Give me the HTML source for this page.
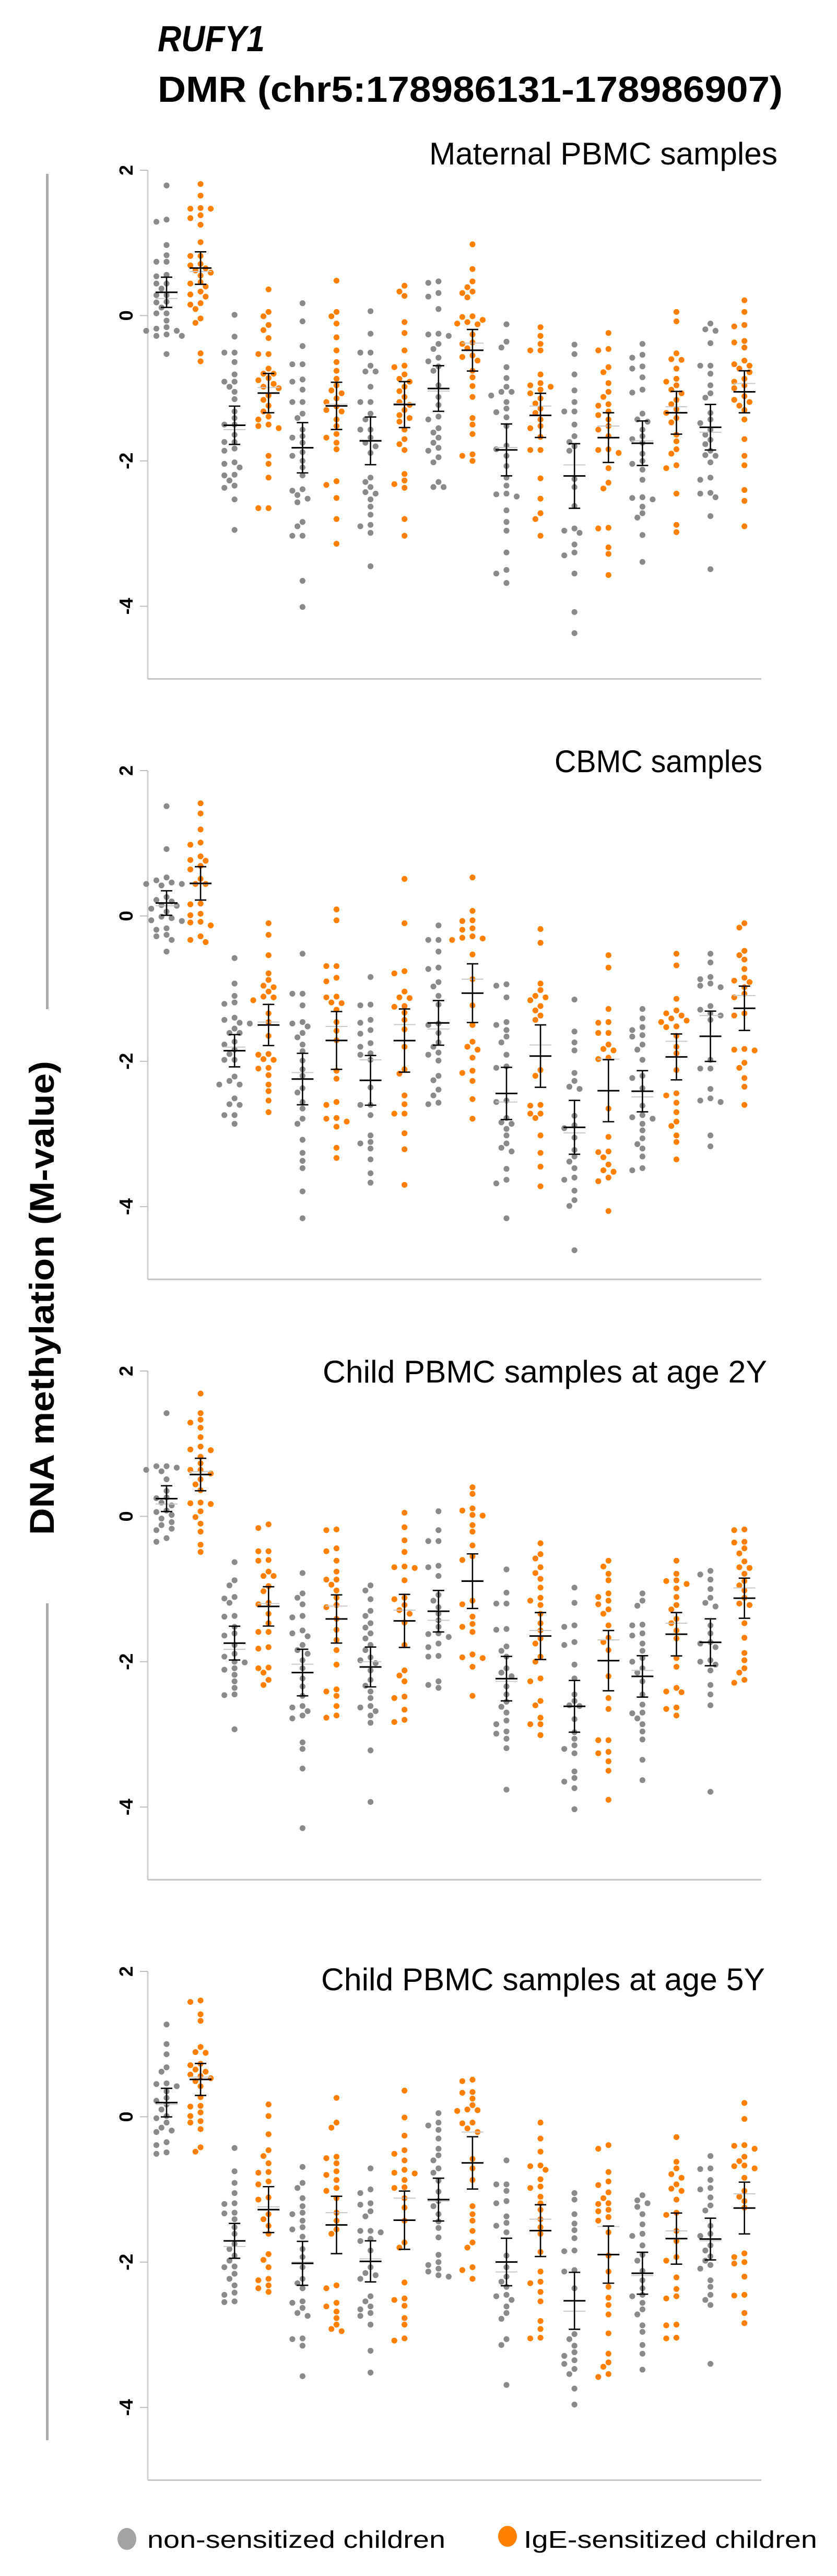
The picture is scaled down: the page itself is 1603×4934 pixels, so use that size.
<!DOCTYPE html>
<html><head><meta charset="utf-8"><title>RUFY1 DMR methylation</title>
<style>
html,body{margin:0;padding:0;background:#fff;}
svg{display:block;}
text{font-family:"Liberation Sans",sans-serif;}
</style></head>
<body>
<svg id="fig" xmlns="http://www.w3.org/2000/svg" width="1603" height="4934" viewBox="0 0 1603 4934">
<text x="302" y="98" font-size="70" font-weight="bold" font-style="italic" textLength="205" lengthAdjust="spacingAndGlyphs">RUFY1</text>
<text x="302" y="195" font-size="70" font-weight="bold" textLength="1197" lengthAdjust="spacingAndGlyphs">DMR (chr5:178986131-178986907)</text>
<rect x="88" y="333" width="5" height="1600" fill="#a9a9ae"/>
<rect x="88" y="3071" width="5" height="1603" fill="#a9a9ae"/>
<text transform="translate(103,2486) rotate(-90)" text-anchor="middle" font-size="66" font-weight="bold" textLength="908" lengthAdjust="spacingAndGlyphs">DNA methylation (M-value)</text>
<g id="panels"></g>
<ellipse cx="243" cy="4863" rx="18" ry="21" fill="#a3a3a6"/>
<text x="282" y="4880" font-size="46" textLength="571" lengthAdjust="spacingAndGlyphs">non-sensitized children</text>
<ellipse cx="972" cy="4858" rx="18" ry="20" fill="#ff8000"/>
<text x="1003" y="4880" font-size="46" textLength="562" lengthAdjust="spacingAndGlyphs">IgE-sensitized children</text>
</svg>
<script>
const panelTitles = ["Maternal PBMC samples","CBMC samples","Child PBMC samples at age 2Y","Child PBMC samples at age 5Y"];
const groupColors = ["non-sensitized","IgE-sensitized"];
const yTicks = [2,0,-2,-4];
const tickLabels = ["2","0","-2","-4"];

const maternalValues = [
[1.79,1.32,1.29,0.97,0.83,0.74,0.74,0.56,0.54,0.44,0.44,0.37,0.28,0.28,0.19,0.18,0.11,0.03,0.03,-0.07,-0.16,-0.18,-0.21,-0.21,-0.26,-0.28,-0.28,-0.53],
[1.81,1.65,1.48,1.47,1.47,1.38,1.34,1.25,1.01,0.82,0.82,0.71,0.69,0.65,0.62,0.59,0.55,0.46,0.44,0.40,0.33,0.29,0.26,0.17,0.15,0.09,-0.04,-0.10,-0.52,-0.63],
[0.01,-0.29,-0.51,-0.51,-0.64,-0.81,-0.91,-0.91,-0.98,-1.05,-1.15,-1.32,-1.41,-1.50,-1.50,-1.64,-1.74,-1.74,-1.83,-1.86,-2.02,-2.04,-2.09,-2.19,-2.20,-2.27,-2.34,-2.37,-2.53,-2.95],
[0.36,0.05,-0.01,-0.13,-0.20,-0.31,-0.53,-0.53,-0.73,-0.80,-0.80,-0.86,-0.89,-0.94,-0.98,-1.00,-1.10,-1.16,-1.24,-1.32,-1.39,-1.43,-1.50,-1.52,-1.55,-1.93,-2.04,-2.23,-2.65,-2.65],
[0.17,-0.08,-0.42,-0.67,-0.67,-0.88,-0.91,-1.02,-1.19,-1.19,-1.35,-1.41,-1.57,-1.66,-1.68,-1.75,-1.88,-1.93,-2.00,-2.09,-2.20,-2.39,-2.41,-2.47,-2.52,-2.57,-2.84,-2.90,-3.03,-3.03,-3.65,-4.01],
[0.48,0.05,-0.01,-0.11,-0.30,-0.48,-0.64,-0.76,-0.87,-0.96,-1.03,-1.07,-1.14,-1.19,-1.25,-1.30,-1.32,-1.43,-1.52,-1.63,-1.68,-1.75,-1.84,-2.28,-2.33,-2.51,-2.80,-3.14],
[0.06,-0.25,-0.51,-0.51,-0.69,-0.77,-0.77,-0.98,-1.19,-1.19,-1.35,-1.43,-1.57,-1.57,-1.68,-1.75,-1.80,-1.89,-2.23,-2.29,-2.36,-2.43,-2.45,-2.53,-2.63,-2.74,-2.88,-2.90,-2.99,-3.45],
[0.41,0.33,0.27,-0.09,-0.24,-0.48,-0.69,-0.71,-0.81,-0.87,-0.91,-0.98,-1.04,-1.12,-1.19,-1.23,-1.30,-1.37,-1.41,-1.46,-1.57,-1.70,-1.77,-1.85,-2.18,-2.27,-2.32,-2.37,-2.80,-3.03],
[0.47,0.45,0.31,0.26,0.09,-0.25,-0.26,-0.28,-0.39,-0.46,-0.58,-0.63,-0.70,-0.76,-0.96,-1.12,-1.23,-1.39,-1.43,-1.55,-1.61,-1.68,-1.75,-1.82,-1.86,-1.95,-2.02,-2.29,-2.36,-2.36],
[0.98,0.64,0.47,0.39,0.33,0.31,0.25,-0.01,-0.02,-0.06,-0.09,-0.11,-0.12,-0.26,-0.37,-0.39,-0.45,-0.55,-0.57,-0.62,-0.76,-0.85,-0.97,-1.12,-1.41,-1.50,-1.63,-1.91,-1.93,-2.00],
[-0.12,-0.36,-0.44,-0.71,-0.86,-0.98,-1.05,-1.05,-1.10,-1.19,-1.28,-1.33,-1.40,-1.52,-1.79,-1.84,-1.93,-2.07,-2.23,-2.34,-2.45,-2.46,-2.49,-2.68,-2.84,-2.96,-3.26,-3.50,-3.55,-3.68],
[-0.16,-0.28,-0.39,-0.48,-0.48,-0.81,-0.93,-0.96,-0.98,-1.02,-1.07,-1.14,-1.21,-1.28,-1.34,-1.43,-1.52,-1.55,-1.67,-1.85,-1.85,-2.24,-2.52,-2.72,-2.80,-3.03],
[-0.40,-0.53,-0.81,-1.03,-1.19,-1.32,-1.32,-1.50,-1.66,-1.74,-1.80,-1.86,-2.25,-2.36,-2.62,-2.93,-2.96,-2.99,-3.15,-3.26,-3.30,-3.55,-4.08,-4.37],
[-0.24,-0.46,-0.48,-0.71,-0.78,-0.93,-1.05,-1.12,-1.22,-1.24,-1.32,-1.37,-1.43,-1.52,-1.57,-1.66,-1.84,-1.85,-1.89,-2.10,-2.30,-2.38,-2.92,-2.93,-3.19,-3.28,-3.57],
[-0.39,-0.54,-0.58,-0.70,-0.73,-0.85,-1.02,-1.06,-1.35,-1.43,-1.46,-1.57,-1.66,-1.70,-1.75,-1.90,-2.00,-2.04,-2.12,-2.26,-2.50,-2.51,-2.53,-2.63,-2.72,-2.78,-3.02,-3.39],
[0.05,-0.08,-0.52,-0.60,-0.61,-0.73,-0.87,-0.91,-0.96,-1.02,-1.07,-1.16,-1.22,-1.29,-1.34,-1.41,-1.47,-1.64,-1.73,-1.84,-1.90,-2.06,-2.10,-2.45,-2.88,-2.98],
[-0.11,-0.19,-0.21,-0.38,-0.69,-0.69,-0.80,-0.96,-1.07,-1.13,-1.34,-1.43,-1.48,-1.57,-1.64,-1.71,-1.77,-1.86,-1.92,-1.93,-2.02,-2.23,-2.26,-2.44,-2.45,-2.50,-2.76,-3.49],
[0.21,0.05,-0.13,-0.15,-0.35,-0.37,-0.44,-0.62,-0.67,-0.69,-0.73,-0.78,-0.87,-0.91,-0.96,-1.00,-1.11,-1.16,-1.19,-1.24,-1.30,-1.43,-1.70,-1.93,-2.06,-2.40,-2.55,-2.90]
];

const cbmcValues = [
[1.51,0.92,0.53,0.49,0.46,0.44,0.44,0.42,0.26,0.22,0.20,0.15,0.14,0.10,0.06,-0.01,-0.03,-0.06,-0.07,-0.17,-0.19,-0.26,-0.28,-0.33,-0.49],
[1.55,1.41,1.19,1.01,0.98,0.82,0.77,0.76,0.69,0.64,0.51,0.44,0.44,0.17,0.16,0.03,0.01,-0.08,-0.09,-0.13,-0.28,-0.33,-0.36],
[-0.58,-0.93,-1.10,-1.19,-1.21,-1.40,-1.43,-1.47,-1.48,-1.55,-1.61,-1.61,-1.73,-1.77,-1.84,-1.90,-1.98,-1.98,-2.21,-2.27,-2.32,-2.32,-2.51,-2.59,-2.60,-2.74,-2.74,-2.86],
[-0.10,-0.26,-0.54,-0.79,-0.88,-0.96,-0.98,-1.04,-1.11,-1.12,-1.16,-1.34,-1.46,-1.65,-1.90,-1.91,-1.97,-1.98,-2.09,-2.10,-2.19,-2.32,-2.41,-2.54,-2.70],
[-0.52,-1.07,-1.07,-1.23,-1.46,-1.48,-1.52,-1.61,-1.67,-1.77,-1.86,-1.99,-2.11,-2.20,-2.37,-2.43,-2.56,-2.65,-2.79,-2.86,-3.08,-3.26,-3.37,-3.47,-3.79,-4.16],
[0.09,-0.06,-0.69,-0.69,-0.85,-0.90,-1.11,-1.12,-1.19,-1.20,-1.29,-1.46,-1.58,-1.71,-2.13,-2.24,-2.56,-2.60,-2.78,-2.79,-2.83,-2.90,-3.19,-3.33],
[-0.84,-1.22,-1.23,-1.43,-1.47,-1.57,-1.62,-1.75,-1.80,-1.89,-1.91,-1.98,-2.36,-2.60,-2.60,-2.74,-3.02,-3.11,-3.13,-3.20,-3.35,-3.54,-3.67],
[0.51,-0.10,-0.76,-0.79,-1.04,-1.12,-1.13,-1.24,-1.25,-1.33,-1.43,-1.56,-1.80,-2.11,-2.17,-2.47,-2.59,-2.72,-2.72,-2.99,-3.21,-3.70],
[-0.13,-0.33,-0.33,-0.49,-0.71,-0.73,-0.91,-0.97,-1.10,-1.22,-1.48,-1.50,-1.61,-1.74,-1.80,-1.88,-1.91,-1.99,-2.20,-2.26,-2.39,-2.47,-2.57,-2.59],
[0.53,0.07,-0.06,-0.07,-0.17,-0.19,-0.28,-0.30,-0.31,-0.33,-0.53,-0.87,-1.23,-1.50,-1.73,-1.80,-1.84,-1.95,-2.13,-2.16,-2.27,-2.52,-2.79],
[-0.94,-0.96,-1.12,-1.46,-1.50,-1.57,-1.66,-1.74,-1.91,-2.07,-2.09,-2.54,-2.56,-2.78,-2.84,-2.86,-2.93,-3.02,-3.13,-3.19,-3.24,-3.48,-3.63,-3.68,-4.16],
[-0.18,-0.37,-0.93,-1.02,-1.10,-1.12,-1.16,-1.24,-1.30,-1.37,-1.43,-2.12,-2.20,-2.60,-2.61,-2.72,-2.72,-2.78,-3.02,-3.26,-3.45,-3.72],
[-1.15,-1.59,-1.74,-1.85,-2.16,-2.27,-2.35,-2.38,-2.75,-2.88,-2.92,-3.05,-3.22,-3.31,-3.38,-3.47,-3.60,-3.63,-3.78,-3.91,-3.99,-4.60],
[-0.54,-0.71,-1.28,-1.46,-1.47,-1.61,-1.61,-1.77,-1.83,-1.85,-1.95,-1.97,-2.65,-3.04,-3.24,-3.25,-3.32,-3.42,-3.50,-3.52,-3.60,-3.65,-4.06],
[-1.28,-1.41,-1.53,-1.57,-1.64,-1.66,-1.77,-1.84,-1.98,-2.20,-2.23,-2.37,-2.61,-2.74,-2.77,-2.79,-2.86,-2.95,-3.06,-3.14,-3.20,-3.31,-3.47,-3.50],
[-0.52,-0.68,-1.14,-1.30,-1.34,-1.37,-1.41,-1.44,-1.46,-1.52,-1.53,-1.65,-1.80,-1.89,-2.12,-2.44,-2.47,-2.57,-2.70,-2.83,-2.89,-3.02,-3.11,-3.35],
[-0.52,-0.64,-0.84,-0.87,-0.93,-0.96,-0.98,-1.24,-1.29,-1.34,-1.37,-1.43,-1.98,-2.10,-2.10,-2.38,-2.51,-2.54,-2.56,-3.02,-3.17],
[-0.10,-0.16,-0.48,-0.54,-0.60,-0.73,-0.85,-0.89,-0.91,-0.98,-1.07,-1.12,-1.34,-1.37,-1.83,-1.84,-1.85,-2.02,-2.09,-2.23,-2.35,-2.60]
];

const child2yValues = [
[1.42,0.69,0.69,0.67,0.64,0.62,0.51,0.35,0.26,0.25,0.19,0.15,0.08,0.06,0.02,-0.03,-0.08,-0.12,-0.17,-0.19,-0.30,-0.35],
[1.69,1.42,1.33,1.29,1.22,1.09,0.96,0.92,0.91,0.82,0.73,0.64,0.64,0.59,0.51,0.44,0.36,0.19,0.18,0.17,0.07,-0.01,-0.10,-0.21,-0.39,-0.49],
[-0.63,-0.88,-0.95,-1.11,-1.13,-1.19,-1.37,-1.38,-1.52,-1.61,-1.64,-1.77,-1.89,-1.93,-2.00,-2.01,-2.09,-2.11,-2.18,-2.27,-2.36,-2.45,-2.46,-2.93],
[-0.11,-0.16,-0.48,-0.48,-0.60,-0.61,-0.76,-0.82,-0.82,-0.96,-1.03,-1.19,-1.21,-1.34,-1.47,-1.59,-1.59,-1.80,-1.82,-2.08,-2.09,-2.15,-2.25,-2.32],
[-0.78,-1.06,-1.12,-1.21,-1.37,-1.39,-1.57,-1.61,-1.65,-1.77,-1.84,-1.89,-1.98,-2.09,-2.23,-2.34,-2.47,-2.61,-2.63,-2.68,-2.74,-2.78,-3.11,-3.20,-3.47,-4.29],
[-0.18,-0.19,-0.44,-0.48,-0.61,-0.76,-0.87,-0.87,-0.94,-1.02,-1.12,-1.22,-1.25,-1.41,-1.56,-1.70,-1.84,-2.04,-2.38,-2.41,-2.47,-2.61,-2.74,-2.77],
[-0.95,-1.02,-1.14,-1.30,-1.37,-1.47,-1.53,-1.61,-1.68,-1.77,-1.84,-1.94,-1.98,-2.02,-2.12,-2.25,-2.33,-2.41,-2.50,-2.61,-2.63,-2.68,-2.74,-2.84,-3.22,-3.93],
[0.05,-0.15,-0.33,-0.49,-0.69,-0.70,-0.71,-0.88,-1.12,-1.14,-1.22,-1.29,-1.34,-1.46,-1.77,-2.12,-2.19,-2.27,-2.48,-2.50,-2.66,-2.80,-2.83],
[0.07,-0.19,-0.34,-0.34,-0.68,-0.70,-0.82,-1.08,-1.16,-1.25,-1.34,-1.43,-1.52,-1.61,-1.62,-1.66,-1.75,-1.80,-1.92,-1.93,-2.27,-2.32,-2.36],
[0.40,0.31,0.11,0.08,0.02,0.01,-0.12,-0.21,-0.40,-0.55,-0.60,-1.16,-1.21,-1.38,-1.48,-1.52,-1.59,-1.90,-1.94,-1.95,-2.07,-2.47],
[-0.73,-1.05,-1.20,-1.20,-1.55,-1.56,-1.79,-1.85,-1.93,-2.09,-2.15,-2.20,-2.34,-2.45,-2.55,-2.62,-2.70,-2.81,-2.86,-2.96,-2.99,-3.06,-3.19,-3.76],
[-0.37,-0.52,-0.58,-0.70,-0.78,-0.86,-0.98,-1.12,-1.16,-1.22,-1.34,-1.47,-1.57,-1.68,-1.75,-1.93,-2.00,-2.23,-2.27,-2.54,-2.60,-2.77,-2.86,-2.86,-3.01],
[-0.98,-1.19,-1.50,-1.52,-1.73,-1.77,-2.04,-2.23,-2.45,-2.54,-2.60,-2.61,-2.79,-2.97,-3.06,-3.15,-3.20,-3.26,-3.51,-3.60,-3.65,-3.74,-4.03],
[-0.61,-0.69,-0.79,-0.88,-1.06,-1.11,-1.16,-1.21,-1.28,-1.34,-1.50,-1.67,-1.73,-1.84,-2.20,-2.50,-2.65,-3.08,-3.08,-3.24,-3.26,-3.37,-3.50,-3.90],
[-1.06,-1.16,-1.23,-1.49,-1.50,-1.61,-1.64,-1.75,-1.85,-1.95,-2.00,-2.09,-2.15,-2.27,-2.45,-2.59,-2.70,-2.71,-2.78,-2.86,-2.96,-3.07,-3.35,-3.63],
[-0.61,-0.79,-0.88,-0.89,-0.93,-0.99,-1.11,-1.22,-1.28,-1.41,-1.47,-1.57,-1.68,-1.95,-2.07,-2.36,-2.41,-2.42,-2.63,-2.65,-2.74],
[-0.75,-0.80,-0.87,-1.00,-1.12,-1.19,-1.24,-1.50,-1.61,-1.73,-1.75,-1.80,-1.98,-2.00,-2.04,-2.12,-2.32,-2.45,-2.60,-3.79],
[-0.18,-0.19,-0.35,-0.36,-0.44,-0.51,-0.62,-0.70,-0.71,-0.79,-0.89,-0.95,-1.02,-1.12,-1.20,-1.22,-1.47,-1.67,-1.88,-1.98,-2.09,-2.15,-2.25,-2.29]
];

const child5yValues = [
[1.27,1.00,0.86,0.68,0.62,0.46,0.45,0.42,0.35,0.26,0.22,0.17,0.10,0.01,-0.02,-0.08,-0.15,-0.19,-0.21,-0.35,-0.39,-0.49,-0.51],
[1.60,1.58,1.41,1.32,0.96,0.89,0.88,0.73,0.71,0.65,0.62,0.58,0.56,0.53,0.49,0.42,0.27,0.15,0.14,0.06,0.01,-0.06,-0.08,-0.17,-0.42,-0.48],
[-0.43,-0.75,-0.91,-1.05,-1.19,-1.20,-1.32,-1.33,-1.41,-1.52,-1.61,-1.75,-1.82,-1.91,-1.98,-2.06,-2.07,-2.16,-2.23,-2.32,-2.42,-2.45,-2.54,-2.55],
[0.17,0.01,-0.24,-0.46,-0.54,-0.64,-0.76,-0.77,-0.89,-0.93,-1.11,-1.14,-1.34,-1.41,-1.50,-1.61,-1.89,-1.97,-2.07,-2.23,-2.25,-2.32,-2.36,-2.41],
[-0.69,-0.91,-0.98,-1.12,-1.23,-1.32,-1.34,-1.43,-1.52,-1.55,-1.65,-1.82,-1.93,-2.07,-2.23,-2.29,-2.36,-2.54,-2.56,-2.63,-2.70,-2.74,-3.05,-3.06,-3.15,-3.57],
[0.26,-0.08,-0.15,-0.55,-0.57,-0.64,-0.75,-0.80,-0.87,-0.98,-1.02,-1.12,-1.32,-1.43,-1.55,-1.61,-2.32,-2.36,-2.56,-2.61,-2.68,-2.77,-2.86,-2.92,-2.95],
[-0.71,-1.00,-1.05,-1.19,-1.21,-1.30,-1.37,-1.57,-1.57,-1.59,-1.68,-1.71,-1.84,-2.07,-2.15,-2.18,-2.23,-2.47,-2.54,-2.61,-2.65,-2.70,-2.74,-2.86,-3.22,-3.52],
[0.36,-0.01,-0.26,-0.46,-0.51,-0.60,-0.73,-0.77,-0.78,-0.87,-0.97,-0.98,-1.12,-1.25,-1.43,-1.73,-1.80,-2.28,-2.50,-2.52,-2.60,-2.77,-2.86,-3.05,-3.08],
[0.05,-0.08,-0.12,-0.18,-0.30,-0.44,-0.53,-0.60,-0.71,-0.77,-0.88,-1.03,-1.16,-1.23,-1.34,-1.44,-1.53,-1.66,-1.90,-2.00,-2.04,-2.09,-2.13,-2.18,-2.20],
[0.51,0.49,0.34,0.33,0.25,0.16,0.10,0.09,0.08,-0.08,-0.09,-0.16,-0.21,-0.58,-0.71,-0.87,-1.23,-1.34,-1.43,-1.57,-1.73,-1.80,-2.07,-2.11,-2.23],
[-0.60,-0.93,-0.93,-1.02,-1.16,-1.19,-1.37,-1.46,-1.50,-1.59,-1.91,-2.07,-2.20,-2.27,-2.34,-2.45,-2.47,-2.52,-2.61,-2.70,-2.78,-3.06,-3.14,-3.69],
[-0.08,-0.30,-0.48,-0.67,-0.68,-0.73,-0.86,-0.96,-0.98,-1.10,-1.19,-1.28,-1.41,-1.52,-1.61,-1.86,-2.13,-2.27,-2.29,-2.41,-2.54,-2.81,-2.92,-3.04,-3.05],
[-1.05,-1.14,-1.34,-1.47,-1.56,-1.67,-1.84,-1.85,-2.11,-2.13,-2.36,-2.99,-3.06,-3.15,-3.24,-3.29,-3.35,-3.40,-3.47,-3.54,-3.74,-3.96],
[-0.39,-0.44,-0.76,-0.89,-0.94,-1.04,-1.12,-1.19,-1.20,-1.28,-1.30,-1.38,-1.43,-1.59,-1.91,-2.13,-2.34,-2.49,-2.59,-2.72,-2.98,-3.26,-3.38,-3.44,-3.54,-3.58],
[-1.08,-1.15,-1.19,-1.24,-1.34,-1.48,-1.61,-1.64,-1.77,-1.90,-1.98,-2.12,-2.25,-2.36,-2.45,-2.47,-2.56,-2.65,-2.72,-2.87,-2.96,-3.14,-3.26,-3.48],
[-0.28,-0.62,-0.71,-0.79,-0.84,-0.93,-0.99,-1.02,-1.14,-1.32,-1.35,-1.57,-1.71,-1.93,-1.98,-2.21,-2.37,-2.47,-2.50,-2.86,-2.87,-3.04,-3.05],
[-0.54,-0.71,-0.72,-0.87,-0.98,-1.00,-1.11,-1.22,-1.29,-1.50,-1.61,-1.64,-1.77,-1.84,-1.92,-1.98,-2.04,-2.09,-2.25,-2.34,-2.45,-2.52,-2.59,-3.40],
[0.19,-0.03,-0.39,-0.40,-0.44,-0.55,-0.61,-0.67,-0.68,-0.71,-0.84,-1.02,-1.10,-1.16,-1.25,-1.88,-1.93,-2.00,-2.02,-2.20,-2.45,-2.46,-2.70,-2.84]
];

const panelData = [maternalValues, cbmcValues, child2yValues, child5yValues];

(function(){
  const NS = "http://www.w3.org/2000/svg";
  const root = document.getElementById("panels");
  const panelTop0 = 326, panelStep = 1150, pxPerUnit = 139.2;
  const xAxis = 283, xEnd = 1458, x0 = 319, dx = 65.1;
  const titleGeo = [[822,315,667],[1062,1479,398],[618,2648,851],[615,3812,850]];
  const fill = ["#8a8a8a","#ff8000"];
  const R = 5.6, minD = 12.5;
  function mk(tag, attrs){
    const e = document.createElementNS(NS, tag);
    for (const k in attrs) e.setAttribute(k, attrs[k]);
    return e;
  }
  panelData.forEach(function(groups, p){
    const top = panelTop0 + p*panelStep;
    const yS = function(v){ return top + (2 - v)*pxPerUnit; };
    const g = mk("g", {});
    
    
    root.appendChild(g);
    const t = mk("text", {x: titleGeo[p][0], y: titleGeo[p][1], "font-size": 60, textLength: titleGeo[p][2], lengthAdjust: "spacingAndGlyphs"});
    t.textContent = panelTitles[p];
    
    
    g.appendChild(t);
    const ya = mk("line", {x1: xAxis, x2: xAxis, y1: yS(2), y2: yS(-5), stroke: "#cfcfcf", "stroke-width": 3});
    
    
    g.appendChild(ya);
    const xa = mk("line", {x1: xAxis, x2: xEnd, y1: yS(-5), y2: yS(-5), stroke: "#c4c4c4", "stroke-width": 3});
    
    
    g.appendChild(xa);
    yTicks.forEach(function(v, i){
      const tk = mk("line", {x1: 268, x2: xAxis, y1: yS(v), y2: yS(v), stroke: "#bdbdbd", "stroke-width": 2});
      
      
      g.appendChild(tk);
      const tl = mk("text", {transform: "translate(254," + yS(v) + ") rotate(-90)", "text-anchor": "middle", "font-size": 36, "font-weight": "bold"});
      tl.textContent = tickLabels[i];
      
      
      g.appendChild(tl);
    });
    groups.forEach(function(vals, gi){
      const cx = x0 + gi*dx;
      const ci = gi % 2;
      const placed = [];
      const sorted = vals.slice().sort(function(a,b){return b-a;});
      sorted.forEach(function(v){
        const y = yS(v);
        let off = 0;
        const cands = [0,-1,1,-2,2,-3,3,-4,4];
        for (let k = 0; k < cands.length; k++){
          const xo = cands[k]*minD*0.78;
          let ok = true;
          for (let j = 0; j < placed.length; j++){
            const ddx = placed[j][0]-xo, ddy = placed[j][1]-y;
            if (ddx*ddx+ddy*ddy < minD*minD){ ok = false; break; }
          }
          if (ok){ off = xo; break; }
        }
        placed.push([off, y]);
        const c = mk("circle", {cx: cx+off, cy: y, r: R, fill: fill[ci]});
        
        
        g.appendChild(c);
      });
      const n = vals.length;
      const mean = vals.reduce(function(a,b){return a+b;},0)/n;
      const sd = Math.sqrt(vals.reduce(function(a,b){return a+(b-mean)*(b-mean);},0)/(n-1));
      const ci95 = 1.96*sd/Math.sqrt(n);
      const srt = vals.slice().sort(function(a,b){return a-b;});
      const med = n%2 ? srt[(n-1)/2] : (srt[n/2-1]+srt[n/2])/2;
      const ml = mk("line", {x1: cx-21, x2: cx+21, y1: yS(med), y2: yS(med), stroke: "#c8c8c8", "stroke-width": 2});
      
      
      g.appendChild(ml);
      const eb = mk("path", {d: "M"+cx+","+yS(mean+ci95)+"V"+yS(mean-ci95)+"M"+(cx-11)+","+yS(mean+ci95)+"H"+(cx+11)+"M"+(cx-11)+","+yS(mean-ci95)+"H"+(cx+11), stroke: "#000", "stroke-width": 2.6, fill: "none"});
      
      
      g.appendChild(eb);
      const mn = mk("line", {x1: cx-21, x2: cx+21, y1: yS(mean), y2: yS(mean), stroke: "#000", "stroke-width": 3});
      
      
      g.appendChild(mn);
    });
  });
})();
</script>
</body></html>
